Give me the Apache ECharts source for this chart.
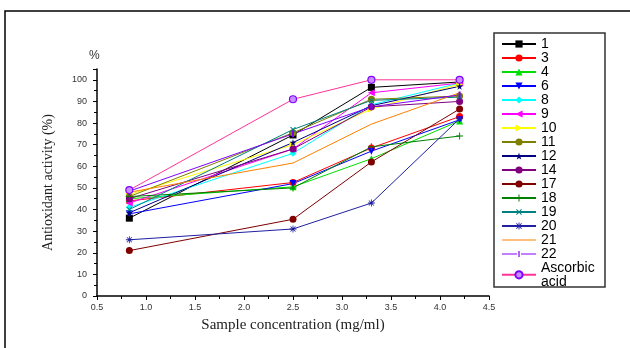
<!DOCTYPE html>
<html>
<head>
<meta charset="utf-8">
<script src="https://cdn.jsdelivr.net/npm/echarts@6/dist/echarts.min.js"></script>
<style>
  html, body { margin: 0; padding: 0; background: #fff; }
  #chart { width: 630px; height: 348px; }
</style>
</head>
<body>
<div id="chart"></div>
<script>
// sample concentration (mg/ml)
var xValues = [0.83, 2.5, 3.3, 4.2];

var s1 = [36, 74.5, 96.5, 99];
var s3 = [44, 52.5, 68.5, 83];
var s4 = [45, 50.5, 63.5, 81];
var s6 = [38, 52, 67, 81.5];
var s8 = [41, 66, 88.5, 98.5];
var s9 = [43, 68, 94, 98.5];
var s10 = [47, 70, 86.5, 98];
var s11 = [46, 75.5, 91, 92.5];
var s12 = [38.5, 71, 88, 97];
var s14 = [45, 68, 87.5, 90];
var s17 = [21, 35.5, 62, 86.5];
var s18 = [46, 50, 69, 74];
var s19 = [40, 77, 90.5, 92];
var s20 = [26, 31, 43, 82];
var s21 = [48, 61.5, 79.5, 94];
var s22 = [48.5, 75, 87.5, 93];
var ascorbic = [49, 91, 100, 100];

var yTicks = [0, 10, 20, 30, 40, 50, 60, 70, 80, 90, 100];

var starPath = 'path://M5,0L6.2,3.6L10,3.6L6.9,5.9L8.1,9.5L5,7.3L1.9,9.5L3.1,5.9L0,3.6L3.8,3.6Z';
var plusPath = 'path://M4.3,0H5.7V4.3H10V5.7H5.7V10H4.3V5.7H0V4.3H4.3Z';
var astPath = 'path://M4.4,0H5.6V3.6L8.2,1L9,1.8L6.4,4.4H10V5.6H6.4L9,8.2L8.2,9L5.6,6.4V10H4.4V6.4L1.8,9L1,8.2L3.6,5.6H0V4.4H3.6L1,1.8L1.8,1L4.4,3.6Z';
var barPath = 'path://M0,0H2V10H0Z';
// legend icons for the series without a normal marker
var lineIcon = 'path://M0,4.4H34V5.6H0Z';
var lineBarIcon = 'path://M0,4.4H15V5.6H0Z M19,4.4H34V5.6H19Z M16.4,2H17.6V8H16.4Z';

function pairs(vals) {
  return vals.map(function (v, i) { return [xValues[i], v]; });
}

function mk(name, vals, color, symbol, extra) {
  var s = {
    name: name,
    type: 'line',
    data: pairs(vals),
    symbol: symbol,
    symbolSize: 7,
    color: color,
    lineStyle: { color: color, width: 1 },
    itemStyle: { color: color },
    animation: false
  };
  if (extra) {
    for (var k in extra) s[k] = extra[k];
  }
  return s;
}

var series = [
  mk('1', s1, '#000000', 'rect'),
  mk('3', s3, '#ff0000', 'circle'),
  mk('4', s4, '#00dd00', 'triangle'),
  mk('6', s6, '#0000ff', 'triangle', { symbolRotate: 180 }),
  mk('8', s8, '#00ffff', 'diamond'),
  mk('9', s9, '#ff00ff', 'triangle', { symbolRotate: 90 }),
  mk('10', s10, '#ffff00', 'triangle', { symbolRotate: -90 }),
  mk('11', s11, '#808000', 'circle'),
  mk('12', s12, '#000080', starPath),
  mk('14', s14, '#800080', 'circle'),
  mk('17', s17, '#800000', 'circle'),
  mk('18', s18, '#008000', plusPath),
  mk('19', s19, '#008080', plusPath, { symbolRotate: 45 }),
  mk('20', s20, '#2020a0', astPath),
  mk('21', s21, '#ff8000', 'none'),
  mk('22', s22, '#8000ff', barPath, { symbolSize: [2, 7] }),
  mk('Ascorbic\nacid', ascorbic, '#ff3399', 'circle', {
    itemStyle: { color: '#c890ff', borderColor: '#8000ff', borderWidth: 1.2 }
  })
];

var legendData = series.map(function (s) {
  if (s.name === '21') return { name: s.name, icon: lineIcon, itemStyle: { color: '#ff8000' } };
  if (s.name === '22') return { name: s.name, icon: lineBarIcon, itemStyle: { color: '#8000ff' } };
  return { name: s.name };
});

var chart = echarts.init(document.getElementById('chart'));
var option = {
  backgroundColor: '#fff',
  title: {
    text: '%',
    left: 84,
    top: 45,
    textStyle: { fontSize: 12, fontWeight: 'normal', color: '#333', fontFamily: 'Liberation Sans' }
  },
  grid: { left: 97, right: 141, top: 69, bottom: 52, containLabel: false },
  legend: {
    orient: 'vertical',
    left: 496,
    top: 32,
    itemWidth: 34,
    itemHeight: 9,
    itemGap: 0,
    align: 'left',
    textStyle: { fontSize: 14, color: '#000', fontFamily: 'Liberation Sans', lineHeight: 13.7 },
    data: legendData
  },
  xAxis: {
    type: 'value',
    min: 0.5,
    max: 4.5,
    interval: 0.5,
    name: 'Sample concentration (mg/ml)',
    nameLocation: 'middle',
    nameGap: 22,
    nameTextStyle: { fontFamily: 'Liberation Serif', fontSize: 15, color: '#222' },
    axisLine: { lineStyle: { color: '#000', width: 1.5 } },
    axisTick: { show: true, length: 4, lineStyle: { color: '#000' } },
    minorTick: { show: true, splitNumber: 2, length: 3, lineStyle: { color: '#000' } },
    axisLabel: {
      fontSize: 9, color: '#333', margin: 7, fontFamily: 'Liberation Sans',
      formatter: function (v) { return v.toFixed(1); }
    },
    splitLine: { show: false }
  },
  yAxis: {
    type: 'value',
    min: 0,
    max: 105,
    interval: 10,
    name: 'Antioxidant activity (%)',
    nameLocation: 'middle',
    nameGap: 42,
    nameTextStyle: { fontFamily: 'Liberation Serif', fontSize: 14, color: '#222' },
    axisLine: { show: true, lineStyle: { color: '#000', width: 1.5 } },
    axisTick: { show: true, length: 4, lineStyle: { color: '#000' } },
    minorTick: { show: true, splitNumber: 2, length: 3, lineStyle: { color: '#000' } },
    axisLabel: {
      fontSize: 9, color: '#333', margin: 10, fontFamily: 'Liberation Sans',
      showMaxLabel: false,
      formatter: function (v) { return yTicks.indexOf(v) >= 0 ? String(v) : ''; }
    },
    splitLine: { show: false }
  },
  graphic: [
    {
      type: 'polyline',
      shape: { points: [[5, 348], [5, 11], [630, 11]] },
      style: { stroke: '#000', lineWidth: 1.5, fill: null }
    },
    {
      type: 'rect',
      shape: { x: 494, y: 33, width: 111, height: 254 },
      style: { stroke: '#333', lineWidth: 1.5, fill: null },
      z: -1
    }
  ],
  series: series
};
chart.setOption(option);
</script>
</body>
</html>
